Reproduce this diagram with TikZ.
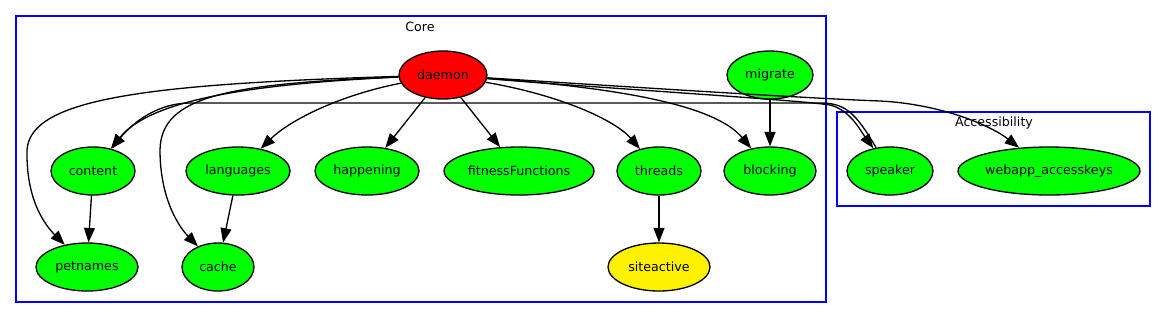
\documentclass[tikz,border=0pt]{standalone}
\usepackage{fontspec}
\setmainfont{DejaVu Sans}
\usetikzlibrary{arrows.meta,positioning,shapes.geometric}
\tikzset{
    dep graph/.style = {x=0.02cm, y=-0.02cm,
                        >={Triangle[length=8.2pt, width=6.2pt]},
                        font=\fontsize{7.2pt}{8.6pt}\selectfont},
    edge/.style      = {->, line width=0.75pt},
    module/.style    = {draw, ellipse, line width=0.75pt, fill=green,
                        inner sep=0pt, minimum height=0.96cm},
    root/.style      = {module, fill=red},
    leaf/.style      = {module, fill=yellow},
    cluster/.style   = {draw=blue, line width=0.75pt}
}
\def\toprow{75}
\def\midrow{171}
\def\lowrow{267}

\begin{document}
\begin{tikzpicture}[dep graph]
\useasboundingbox (0,0) rectangle (1167,319);

% Cluster frames and their titles.
\draw[cluster] (16,16) rectangle (826,302);
\node (coretitle) at (420,27) {Core};
\draw[cluster] (837,112) rectangle (1150,206);
\node (accesstitle) at (994,123) {Accessibility};

% Top row of the Core cluster.
\node[root, minimum width=1.76cm] (daemon) at (443,\toprow) {daemon};
\node[module, minimum width=1.72cm] (migrate) at (770,\toprow) {migrate};

% Middle row.
\node[module, minimum width=1.68cm] (content) at (93,\midrow) {content};
\node[module, minimum width=2.08cm] (languages) at (238,\midrow) {languages};
\node[module, minimum width=2.08cm] (happening) at (367,\midrow) {happening};
\node[module, minimum width=3cm] (fitness) at (519,\midrow) {fitnessFunctions};
\node[module, minimum width=1.68cm] (threads) at (659,\midrow) {threads};
\node[module, minimum width=1.84cm] (blocking) at (770,\midrow) {blocking};
\node[module, minimum width=1.72cm] (speaker) at (890,\midrow) {speaker};
\node[module, minimum width=3.64cm] (webapp) at (1049,\midrow)
    {webapp\_accesskeys};

% Bottom row.
\node[module, minimum width=2.04cm] (petnames) at (87,\lowrow) {petnames};
\node[module, minimum width=1.44cm] (cache) at (218,\lowrow) {cache};
\node[leaf, minimum width=2.04cm] (siteactive) at (659,\lowrow) {siteactive};

% Long edges leaving daemon to the left.
\draw[edge] (daemon) .. controls (150,84) and (30,98) .. (27,150)
    .. controls (26,200) and (45,225) .. (petnames);
\draw[edge] (daemon) .. controls (230,84) and (161,95) .. (160,150)
    .. controls (160,200) and (180,228) .. (cache);
\draw[edge] (daemon) .. controls (250,84) and (150,100) .. (content);
\draw[edge] (daemon) .. controls (340,95) and (290,120) .. (languages);

% Short edges below daemon.
\draw[edge] (daemon) -- (happening);
\draw[edge] (daemon) -- (fitness);
\draw[edge] (daemon) .. controls (560,95) and (615,120) .. (threads);
\draw[edge] (daemon) .. controls (620,88) and (715,105) .. (blocking);
\draw[edge] (migrate) -- (blocking);

% Edges into the Accessibility cluster.
\draw[edge] (daemon) .. controls (600,88) and (800,100) .. (830,105)
    .. controls (850,110) and (860,130) .. (speaker);
\draw[edge] (daemon) .. controls (600,85) and (800,98) .. (880,101)
    .. controls (940,104) and (990,125) .. (webapp);
\draw[edge] (speaker) .. controls (855,112) and (845,103) .. (820,103)
    -- (190,103) .. controls (160,103) and (135,120) .. (content);

% Remaining edges inside Core.
\draw[edge] (content) -- (petnames);
\draw[edge] (languages) -- (cache);
\draw[edge] (threads) -- (siteactive);

\end{tikzpicture}
\end{document}
